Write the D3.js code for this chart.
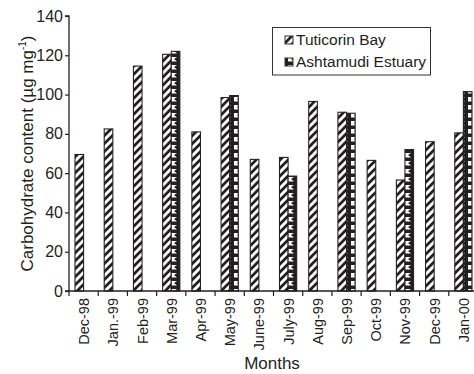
<!DOCTYPE html>
<html>
<head>
<meta charset="utf-8">
<script src="https://cdn.jsdelivr.net/npm/d3@7"></script>
<style>
  html, body { margin: 0; padding: 0; background: #fff; }
  svg { display: block; font-family: "Liberation Sans", Arial, sans-serif; }
</style>
</head>
<body>
<svg id="chart" width="474" height="374"></svg>
<script>
// Monthly carbohydrate content at two sites
const months = ["Dec-98", "Jan.-99", "Feb-99", "Mar-99", "Apr-99", "May-99", "June-99",
                "July-99", "Aug-99", "Sep-99", "Oct-99", "Nov-99", "Dec-99", "Jan-00"];
const tuticorin = [69.5, 82.5, 114.5, 120.5, 81, 98.5, 67, 68, 96.5, 91, 66.5, 56.5, 76, 80.5];
const ashtamudi = [null, null, null, 122, null, 99.5, null, 58.5, null, 90.5, null, 72, null, 101.5];
const seriesNames = ["Tuticorin Bay", "Ashtamudi Estuary"];
const yTicks = [0, 20, 40, 60, 80, 100, 120, 140];

const svg = d3.select("#chart");
const mLeft = 69, mRight = 478, mTop = 16, mBottom = 291;
const ink = "#231f20";

// fill patterns
const defs = svg.append("defs");
const hatch = defs.append("pattern")
  .attr("id", "hatch").attr("patternUnits", "userSpaceOnUse")
  .attr("width", 8).attr("height", 8);
hatch.append("rect").attr("width", 8).attr("height", 8).attr("fill", "#fff");
hatch.append("path")
  .attr("d", "M-2,2 L2,-2 M0,8 L8,0 M6,10 L10,6")
  .attr("stroke", ink).attr("stroke-width", 2.7);

const arrows = defs.append("pattern")
  .attr("id", "arrows").attr("patternUnits", "userSpaceOnUse")
  .attr("width", 9).attr("height", 8);
arrows.append("rect").attr("width", 9).attr("height", 8).attr("fill", ink);
arrows.append("path")
  .attr("d", "M0,1 L6,1 L3,3 L6,5.5 L0,5.5 Z")
  .attr("fill", "#fff");

const x = d3.scaleBand().domain(months).range([mLeft, mRight]).padding(0);
const y = d3.scaleLinear().domain([0, 140]).range([mBottom, mTop]);
const barW = 8.6;

// Bars
const g = svg.append("g");
g.selectAll("rect.tut").data(months).enter().append("rect")
  .attr("class", "tut")
  .attr("x", d => x(d) + x.bandwidth() / 2 - barW)
  .attr("width", barW)
  .attr("y", (d, i) => y(tuticorin[i]))
  .attr("height", (d, i) => y(0) - y(tuticorin[i]))
  .attr("fill", "url(#hatch)")
  .attr("stroke", "#222").attr("stroke-width", 1.1);

const ashData = months.map((m, i) => ({ m, v: ashtamudi[i] })).filter(d => d.v != null);
g.selectAll("rect.ash").data(ashData).enter().append("rect")
  .attr("class", "ash")
  .attr("x", d => x(d.m) + x.bandwidth() / 2)
  .attr("width", barW)
  .attr("y", d => y(d.v))
  .attr("height", d => y(0) - y(d.v))
  .attr("fill", "url(#arrows)")
  .attr("stroke", "#222").attr("stroke-width", 1.1);

// Y axis
const yAxis = svg.append("g").attr("transform", `translate(${mLeft},0)`)
  .call(d3.axisLeft(y).tickValues(yTicks).tickSize(4).tickPadding(2));
yAxis.select(".domain").attr("stroke", ink).attr("stroke-width", 1.3).attr("d", `M-4,${mTop}H0V${mBottom}`);
yAxis.selectAll(".tick line").attr("stroke", ink).attr("stroke-width", 1.2);
yAxis.selectAll(".tick text").attr("fill", ink).style("font-size", "16px");

// X axis with ticks at category boundaries
const xg = svg.append("g");
xg.append("line").attr("x1", mLeft - 4).attr("x2", mRight).attr("y1", mBottom).attr("y2", mBottom)
  .attr("stroke", ink).attr("stroke-width", 1.3);
xg.selectAll("line.tk").data(months).enter().append("line")
  .attr("class", "tk")
  .attr("x1", d => x(d)).attr("x2", d => x(d))
  .attr("y1", mBottom).attr("y2", mBottom + 5)
  .attr("stroke", ink).attr("stroke-width", 1.2);
xg.selectAll("text").data(months).enter().append("text")
  .attr("transform", d => `translate(${x(d) + x.bandwidth() / 2 + 5.5},${mBottom + 7}) rotate(-90)`)
  .attr("text-anchor", "end")
  .attr("fill", ink)
  .style("font-size", "14.5px")
  .text(d => d);

// Axis titles
const yt = svg.append("text")
  .attr("transform", `translate(33,${(mTop + mBottom) / 2}) rotate(-90)`)
  .attr("text-anchor", "middle").attr("fill", ink).style("font-size", "17px");
yt.append("tspan").text("Carbohydrate content (\u00b5g mg");
yt.append("tspan").attr("dy", -7).style("font-size", "10px").text("-1");
yt.append("tspan").attr("dy", 7).text(")");

svg.append("text").attr("x", 272).attr("y", 369).attr("text-anchor", "middle")
  .attr("fill", ink).style("font-size", "17px").text("Months");

// Legend
const lg = svg.append("g");
lg.append("rect").attr("x", 272.5).attr("y", 27.5).attr("width", 158).attr("height", 47.5)
  .attr("fill", "#fff").attr("stroke", "#333").attr("stroke-width", 1);
const fills = ["url(#hatch)", "url(#arrows)"];
seriesNames.forEach((name, i) => {
  const yy = 36 + i * 22;
  lg.append("rect").attr("x", 285).attr("y", yy).attr("width", 8).attr("height", 8)
    .attr("fill", fills[i]).attr("stroke", "#333").attr("stroke-width", 1);
  lg.append("text").attr("x", 296).attr("y", yy + 9).attr("fill", ink)
    .style("font-size", "15.5px").text(name);
});
</script>
</body>
</html>
